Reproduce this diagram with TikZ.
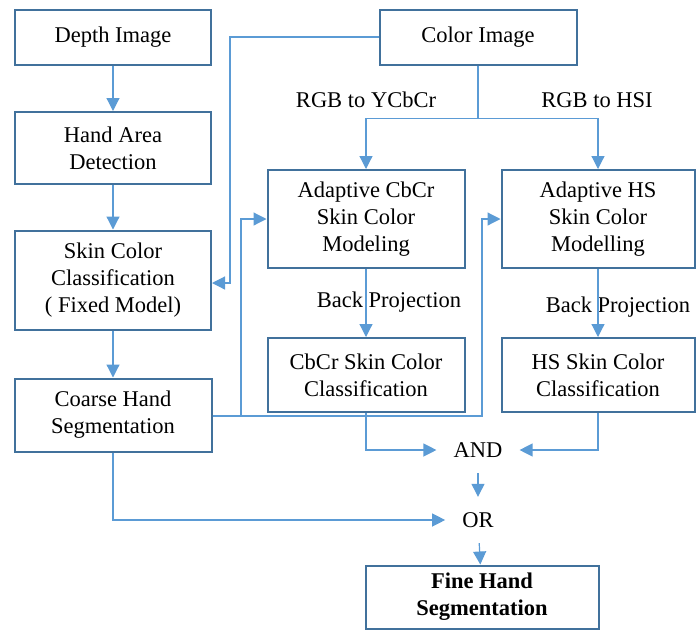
\documentclass[tikz,border=0pt]{standalone}
\usepackage{fontspec}
\setmainfont{Liberation Serif}
\usetikzlibrary{arrows.meta}
\definecolor{boxblue}{HTML}{41719C}
\definecolor{lineblue}{HTML}{5B9BD5}
\tikzset{
  block/.style={draw=boxblue,line width=2pt,align=center,inner sep=0pt,
    font=\fontsize{22.5}{27}\selectfont},
  plain/.style={align=center,font=\fontsize{22.5}{27}\selectfont},
  opnode/.style={plain,inner xsep=17pt,inner ysep=0pt,minimum height=46pt},
  link/.style={draw=lineblue,line width=1.2pt},
  conn/.style={link,-{Triangle[length=13pt,width=13pt]}}
}
\begin{document}
\begin{tikzpicture}[x=1pt,y=-1pt]
  \useasboundingbox (0,0) rectangle (696,630);
  % left column
  \node[block,minimum width=196pt,minimum height=55pt] (depth) at (113,37) {Depth Image};
  \node[block,minimum width=196pt,minimum height=72pt] (handarea) at (113,148) {Hand Area\\Detection};
  \node[block,minimum width=196pt,minimum height=99pt] (skinfixed) at (113,280) {Skin Color\\Classification\\( Fixed Model)};
  \node[block,minimum width=197pt,minimum height=73pt] (coarse) at (113,415) {Coarse Hand\\Segmentation};
  % right part
  \node[block,minimum width=197pt,minimum height=55pt] (colorimg) at (478,37) {Color Image};
  \node[block,minimum width=197pt,minimum height=98pt] (adcbcr) at (366,219) {Adaptive CbCr\\Skin Color\\Modeling};
  \node[block,minimum width=193pt,minimum height=98pt] (adhs) at (598,219) {Adaptive HS\\Skin Color\\Modelling};
  \node[block,minimum width=197pt,minimum height=74pt] (cbcrcls) at (366,375) {CbCr Skin Color\\Classification};
  \node[block,minimum width=193pt,minimum height=74pt] (hscls) at (598,375) {HS Skin Color\\Classification};
  \node[block,minimum width=233pt,minimum height=63pt,font=\fontsize{22.5}{27}\selectfont\bfseries] (fine) at (482,597) {Fine Hand\\Segmentation};
  \node[opnode] (andop) at (478,450) {AND};
  \node[opnode] (orop) at (478,520) {OR};
  % labels
  \node[plain] (ycbcr) at (366,100) {RGB to YCbCr};
  \node[plain] (hsi) at (597,100) {RGB to HSI};
  \node[plain] (bpleft) at (389,302) {Back Projection};
  \node[plain] (bpright) at (618,307) {Back Projection};
  % connectors
  \draw[conn] (depth) -- (handarea);
  \draw[conn] (handarea) -- (skinfixed);
  \draw[conn] (skinfixed) -- (coarse);
  \draw[conn] (colorimg.west) -| (230,283) -- (skinfixed.east |- 0,283);
  \draw[link] (colorimg.south) -- ++(0,53) coordinate (split);
  \draw[conn] (split) -| (adcbcr.north);
  \draw[conn] (split) -| (adhs.north);
  \coordinate (c1) at (241,416);
  \coordinate (c2) at (482,416);
  \draw[conn] (coarse.east |- c1) -- (c1) |- (adcbcr.west);
  \draw[conn] (c1) -- (c2) |- (adhs.west);
  \draw[conn] (adcbcr) -- (cbcrcls);
  \draw[conn] (adhs) -- (hscls);
  \draw[conn] (cbcrcls.south) |- (andop.west);
  \draw[conn] (hscls.south) |- (andop.east);
  \draw[conn] (andop) -- (orop);
  \draw[conn] (coarse.south) |- (orop.west);
  \draw[conn] (orop) -- (fine);
\end{tikzpicture}
\end{document}
